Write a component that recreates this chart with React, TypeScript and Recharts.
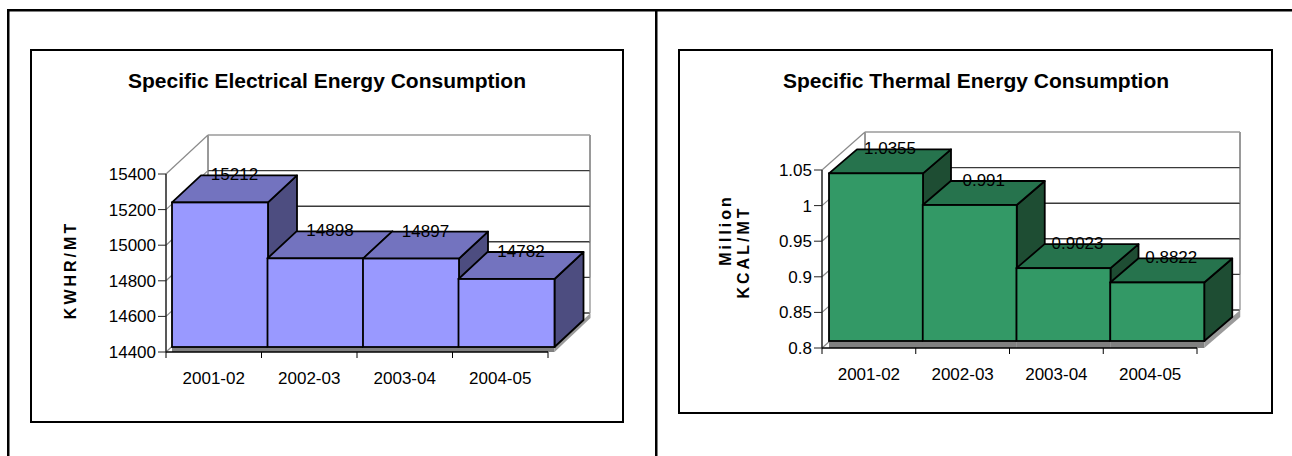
import { BarChart, Bar, XAxis, YAxis, CartesianGrid, LabelList } from 'recharts';

const years = ['2001-02', '2002-03', '2003-04', '2004-05'];

const electricalValues = [15212, 14898, 14897, 14782];
const electricalTicks = [14400, 14600, 14800, 15000, 15200, 15400];

const thermalValues = [1.0355, 0.991, 0.9023, 0.8822];
const thermalTicks = [0.8, 0.85, 0.9, 0.95, 1, 1.05];

const FONT = '"Liberation Sans", Arial, sans-serif';

interface Depth {
  fx: number; // bar front face offset from the axis plane
  fy: number;
  bdx: number; // bar depth
  bdy: number;
  wdx: number; // back wall depth
  wdy: number;
  top: number;
  plotW: number;
}

interface Colors {
  front: string;
  top: string;
  side: string;
}

const makeBoxShape = (d: Depth, c: Colors, count: number) => (props: any) => {
  const { x, y, width, height, index } = props;
  const base = y + height;
  const fx = x + d.fx;
  const fy = y + d.fy;
  const fb = base + d.fy;
  const r = fx + width;
  const top = `${fx},${fy} ${fx + d.bdx},${fy + d.bdy} ${r + d.bdx},${fy + d.bdy} ${r},${fy}`;
  const side = `${r},${fy} ${r + d.bdx},${fy + d.bdy} ${r + d.bdx},${fb + d.bdy} ${r},${fb}`;
  const sdx = d.wdx - d.fx;
  const sdy = d.wdy - d.fy;
  return (
    <g>
      <rect x={fx} y={fb} width={width} height={-d.fy} fill="#808080" />
      {index === count - 1 && (
        <polygon
          points={`${r},${fb} ${r + sdx},${fb + sdy} ${r + sdx},${base + sdy} ${r},${base}`}
          fill="#9a9a9a"
        />
      )}
      <polygon points={side} fill={c.side} stroke="#000" strokeWidth={1.8} strokeLinejoin="round" />
      <polygon points={top} fill={c.top} stroke="#000" strokeWidth={1.8} strokeLinejoin="round" />
      <rect x={fx} y={fy} width={width} height={height} fill={c.front} stroke="#000" strokeWidth={1.8} />
    </g>
  );
};

const makeLabel = (d: Depth) => (props: any) => {
  const vb = props.viewBox || props;
  const cx = vb.x + d.fx + vb.width / 2 + d.bdx / 2;
  const cy = vb.y + d.fy + d.bdy + 5;
  return (
    <text x={cx} y={cy} textAnchor="middle" fontSize={17} fill="#000" fontFamily={FONT}>
      {props.value}
    </text>
  );
};

const makeWall = (d: Depth) => (props: any) => {
  const { x1, y1, x2, index } = props;
  const top = typeof props.y === 'number' ? props.y : d.top;
  const bx1 = x1 + d.wdx;
  const bx2 = x2 + d.wdx;
  const by = y1 + d.wdy;
  const isTop = Math.abs(y1 - top) < 0.5;
  return (
    <g key={`wall-${index}`}>
      <line x1={x1} y1={y1} x2={bx1} y2={by} stroke="#8a8a8a" strokeWidth={1.2} />
      <line x1={bx1} y1={by} x2={bx2} y2={by} stroke={isTop ? '#9a9a9a' : '#3a3a3a'} strokeWidth={1.4} />
      <line x1={bx1} y1={top + d.wdy} x2={bx1} y2={by} stroke="#9a9a9a" strokeWidth={1.4} />
      <line x1={bx2} y1={top + d.wdy} x2={bx2} y2={by} stroke="#9a9a9a" strokeWidth={1.4} />
    </g>
  );
};

const makeXTick = (d: Depth, count: number) => (props: any) => {
  const { x, y, payload, index } = props;
  const axisY = y - 20;
  const band = d.plotW / count;
  return (
    <g>
      <line x1={x - band / 2} y1={axisY} x2={x - band / 2} y2={axisY + 6} stroke="#000" />
      {index === count - 1 && (
        <line x1={x + band / 2} y1={axisY} x2={x + band / 2} y2={axisY + 6} stroke="#000" />
      )}
      <text x={x} y={y} dy="0.71em" textAnchor="middle" fontSize={17} fill="#000" fontFamily={FONT}>
        {payload.value}
      </text>
    </g>
  );
};

interface Chart3DProps {
  left: number;
  top: number;
  width: number;
  height: number;
  margin: { top: number; right: number; bottom: number; left: number };
  values: number[];
  ticks: number[];
  depth: Depth;
  colors: Colors;
}

const Chart3D = ({ left, top, width, height, margin, values, ticks, depth, colors }: Chart3DProps) => {
  const data = years.map((year, i) => ({ year, value: values[i] }));
  return (
    <div style={{ position: 'absolute', left, top, width, height }}>
      <BarChart
        width={width}
        height={height}
        data={data}
        margin={margin}
        barCategoryGap={0}
        barGap={0}
        style={{ fontFamily: FONT }}
      >
        <CartesianGrid horizontal={makeWall(depth)} vertical={false} />
        <XAxis
          dataKey="year"
          height={30}
          axisLine={{ stroke: '#000', strokeWidth: 1.5 }}
          tickLine={false}
          tickSize={6}
          tickMargin={14}
          interval={0}
          tick={makeXTick(depth, years.length)}
        />
        <YAxis
          width={60}
          domain={[ticks[0], ticks[ticks.length - 1]]}
          ticks={ticks}
          interval={0}
          axisLine={{ stroke: '#222', strokeWidth: 1.5 }}
          tickLine={{ stroke: '#222' }}
          tickSize={8}
          tickMargin={2}
          tick={{ fill: '#000', fontSize: 17, fontFamily: FONT }}
        />
        <Bar
          dataKey="value"
          isAnimationActive={false}
          shape={makeBoxShape(depth, colors, years.length)}
        >
          <LabelList dataKey="value" content={makeLabel(depth)} />
        </Bar>
      </BarChart>
    </div>
  );
};

export default function App() {
  return (
    <div style={{ position: 'absolute', left: 0, top: 0, width: 1292, height: 456, background: '#fff' }}>
      <svg width={1292} height={456} style={{ position: 'absolute', left: 0, top: 0 }}>
        <rect x={7} y={9} width={1285} height={2.5} fill="#000" />
        <rect x={7} y={9} width={2.5} height={447} fill="#000" />
        <rect x={655} y={9} width={2.5} height={447} fill="#000" />
        <rect x={31} y={50} width={592} height={372} fill="#fff" stroke="#000" strokeWidth={2} />
        <rect x={679} y={50} width={593} height={363} fill="#fff" stroke="#000" strokeWidth={2} />
        <text x={327} y={88} textAnchor="middle" fontSize={21} fontWeight="bold" fontFamily={FONT}>
          Specific Electrical Energy Consumption
        </text>
        <text x={976} y={88} textAnchor="middle" fontSize={21} fontWeight="bold" fontFamily={FONT}>
          Specific Thermal Energy Consumption
        </text>
        <text x={76} y={270} transform="rotate(-90 76 270)" textAnchor="middle" fontSize={16}
          fontWeight="bold" letterSpacing={3} fontFamily={FONT}>
          KWHR/MT
        </text>
        <text x={731} y={230} transform="rotate(-90 731 230)" textAnchor="middle" fontSize={16}
          fontWeight="bold" letterSpacing={3} fontFamily={FONT}>
          Million
        </text>
        <text x={749} y={252} transform="rotate(-90 749 252)" textAnchor="middle" fontSize={16}
          fontWeight="bold" letterSpacing={3} fontFamily={FONT}>
          KCAL/MT
        </text>
      </svg>
      <Chart3D
        left={31}
        top={50}
        width={592}
        height={372}
        margin={{ top: 124, right: 75, bottom: 40, left: 75 }}
        values={electricalValues}
        ticks={electricalTicks}
        depth={{ fx: 6, fy: -5, bdx: 29, bdy: -27, wdx: 42, wdy: -39, top: 124, plotW: 382 }}
        colors={{ front: '#9999FF', top: '#7373BF', side: '#4D4D80' }}
      />
      <Chart3D
        left={679}
        top={50}
        width={593}
        height={363}
        margin={{ top: 120, right: 75, bottom: 35, left: 83 }}
        values={thermalValues}
        ticks={thermalTicks}
        depth={{ fx: 7, fy: -7, bdx: 28, bdy: -24, wdx: 43, wdy: -38, top: 120, plotW: 375 }}
        colors={{ front: '#339966', top: '#26734D', side: '#1E4D33' }}
      />
    </div>
  );
}
